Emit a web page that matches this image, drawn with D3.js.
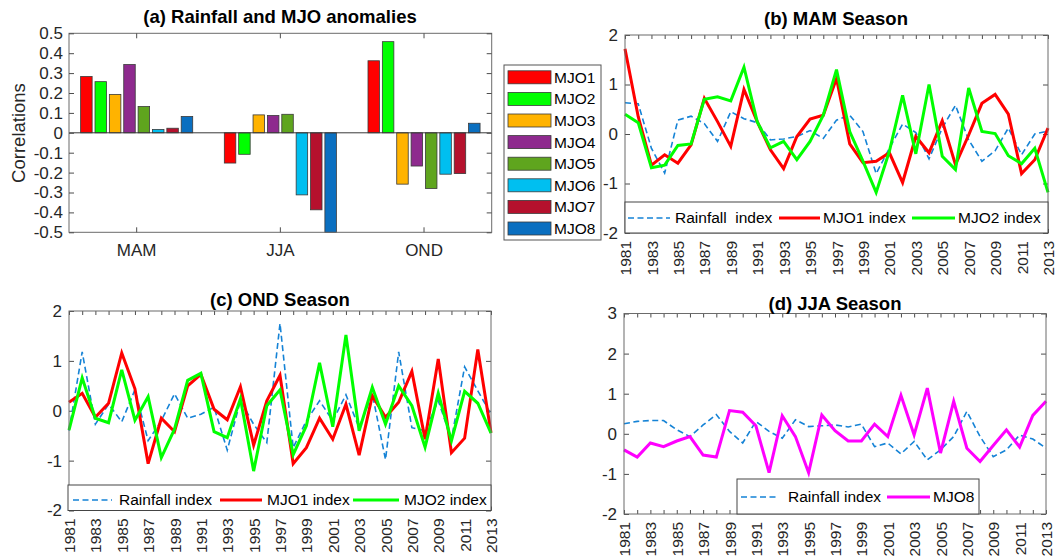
<!DOCTYPE html>
<html>
<head>
<meta charset="utf-8">
<script src="https://cdn.jsdelivr.net/npm/d3@7"></script>
<style>
  body { margin: 0; background: #fff; }
  svg { font-family: "Liberation Sans", Arial, Helvetica, sans-serif; }
  .axis path { display: none; }
  .axis line { stroke: #4d4d4d; }
  .axis text { fill: #262626; font-size: 17px; font-family: "Liberation Sans", Arial, sans-serif; }
  .title { font-weight: bold; font-size: 18.5px; fill: #000; text-anchor: middle; }
  .leg { font-size: 15.5px; fill: #000; white-space: pre; }
</style>
</head>
<body>
<svg id="chart" width="1055" height="558"></svg>
<script>
// ---- data ----
const seasons = ['MAM', 'JJA', 'OND'];
const phases = ['MJO1', 'MJO2', 'MJO3', 'MJO4', 'MJO5', 'MJO6', 'MJO7', 'MJO8'];
const corrMAM = [0.283, 0.257, 0.193, 0.343, 0.132, 0.017, 0.023, 0.082];
const corrJJA = [-0.152, -0.108, 0.09, 0.087, 0.093, -0.312, -0.387, -0.5];
const corrOND = [0.362, 0.458, -0.258, -0.167, -0.28, -0.208, -0.205, 0.048];
const corrTicks = [-0.5, -0.4, -0.3, -0.2, -0.1, 0, 0.1, 0.2, 0.3, 0.4, 0.5];

const years = [1981, 1982, 1983, 1984, 1985, 1986, 1987, 1988, 1989, 1990, 1991,
  1992, 1993, 1994, 1995, 1996, 1997, 1998, 1999, 2000, 2001, 2002,
  2003, 2004, 2005, 2006, 2007, 2008, 2009, 2010, 2011, 2012, 2013];

// (b) MAM
const mamRain = [0.63, 0.61, -0.29, -0.79, 0.28, 0.36, 0.21, -0.15, 0.45, 0.31, 0.23,
  -0.12, -0.1, -0.05, 0.07, -0.09, 0.28, 0.38, 0.05, -0.8, -0.29, 0.2,
  0.03, -0.5, 0.12, 0.58, -0.12, -0.55, -0.34, 0.12, -0.42, 0.0, 0.06];
const mamMJO1 = [1.72, 0.35, -0.63, -0.42, -0.59, -0.22, 0.72, 0.25, -0.25, 0.9, 0.25,
  -0.32, -0.7, -0.05, 0.3, 0.38, 1.12, -0.2, -0.58, -0.55, -0.38, -0.98,
  -0.05, -0.38, 0.27, -0.62, -0.02, 0.62, 0.8, 0.4, -0.8, -0.52, 0.12];
const mamMJO2 = [0.4, 0.23, -0.68, -0.63, -0.23, -0.2, 0.7, 0.75, 0.67, 1.35, 0.25,
  -0.28, -0.15, -0.52, -0.15, 0.38, 1.3, 0.05, -0.55, -1.18, -0.35, 0.78,
  -0.4, 1.0, -0.45, -0.72, 0.93, 0.05, 0.01, -0.44, -0.6, -0.29, -1.18];

// (c) OND
const ondRain = [-0.4, 1.18, -0.27, 0.13, -0.22, 0.42, -0.6, -0.2, 0.34, -0.15, -0.07,
  0.07, -0.79, 0.2, -0.27, -0.64, 1.75, -0.74, -0.2, 0.2, -0.2, 0.32,
  -0.34, 0.34, -0.98, 1.18, -0.34, -0.4, 0.2, -0.57, 0.88, 0.4, -0.07];
const ondMJO1 = [0.17, 0.35, -0.13, 0.15, 1.16, 0.44, -1.06, -0.15, -0.42, 0.5, 0.73,
  0.03, -0.18, 0.48, -0.69, 0.2, 0.71, -1.06, -0.74, -0.15, -0.57, 0.13,
  -0.89, 0.3, -0.13, 0.17, 0.79, -0.57, 1.04, -0.84, -0.55, 1.23, -0.44];
const ondMJO2 = [-0.39, 0.66, -0.15, -0.24, 0.82, -0.19, 0.28, -0.94, -0.37, 0.61, 0.75,
  -0.42, -0.54, 0.24, -1.21, 0.1, 0.42, -0.88, -0.3, 0.96, -0.32, 1.52,
  -0.4, 0.47, -0.27, 0.5, 0.1, -0.73, 0.35, -0.6, 0.39, 0.15, -0.45];

// (d) JJA
const jjaRain = [0.25, 0.31, 0.33, 0.33, 0.1, -0.07, 0.22, 0.48, 0.06, -0.23, 0.31,
  0.06, -0.11, 0.35, 0.18, 0.2, 0.22, 0.17, 0.24, -0.32, -0.23, -0.5,
  -0.19, -0.65, -0.4, -0.07, 0.56, -0.07, -0.57, -0.4, -0.03, -0.13, -0.36];
const jjaMJO8 = [-0.4, -0.58, -0.23, -0.32, -0.18, -0.07, -0.53, -0.58, 0.58, 0.54, 0.2,
  -0.97, 0.45, -0.07, -0.97, 0.47, 0.08, -0.18, -0.18, 0.24, -0.07, 0.96,
  -0.03, 1.14, -0.48, 0.81, -0.36, -0.69, -0.29, 0.1, -0.33, 0.46, 0.81];

const lineTicks = [-2, -1, 0, 1, 2];
const lineTicksD = [-2, -1, 0, 1, 2, 3];

// ---- styles ----
const phaseColors = ['#ff0000', '#00ff00', '#ffb300', '#8e2a8e', '#5fa51e', '#00bff0', '#b5112d', '#0a6fc0'];
const rainStyle = { color: '#1583d6', width: 1.6, dash: '6,3.5' };
const boxColor = '#6b6b6b';

const svg = d3.select('#chart');

// ================= (a) bar chart =================
(function () {
	const box = { left: 69, right: 491.7, top: 33.3, bottom: 232.3 };
	const corr = { MAM: corrMAM, JJA: corrJJA, OND: corrOND };

	const x0 = d3.scaleBand().domain(seasons).range([box.left, box.right])
		.paddingInner(0.2).paddingOuter(0.071);
	const x1 = d3.scaleBand().domain(phases).range([0, x0.bandwidth()])
		.paddingInner(0.2).paddingOuter(0.1);
	const y = d3.scaleLinear().domain([-0.5, 0.5]).range([box.bottom, box.top]);

	const g = svg.append('g');
	g.append('rect')
		.attr('x', box.left).attr('y', box.top)
		.attr('width', box.right - box.left).attr('height', box.bottom - box.top)
		.attr('fill', '#fff');

	seasons.forEach(function (s) {
		g.selectAll(null)
			.data(corr[s])
			.enter().append('rect')
			.attr('x', (d, i) => x0(s) + x1(phases[i]))
			.attr('width', x1.bandwidth())
			.attr('y', d => y(Math.max(0, d)))
			.attr('height', d => Math.abs(y(d) - y(0)))
			.attr('fill', (d, i) => phaseColors[i])
			.attr('stroke', '#3a3a3a')
			.attr('stroke-width', 0.8);
	});

	// baseline at zero
	g.append('line')
		.attr('x1', box.left).attr('x2', box.right)
		.attr('y1', y(0)).attr('y2', y(0))
		.attr('stroke', '#3a3a3a').attr('stroke-width', 1);

	g.append('rect')
		.attr('x', box.left).attr('y', box.top)
		.attr('width', box.right - box.left).attr('height', box.bottom - box.top)
		.attr('fill', 'none').attr('stroke', boxColor);

	g.append('g').attr('class', 'axis')
		.attr('transform', 'translate(' + box.left + ',0)')
		.call(d3.axisLeft(y).tickValues(corrTicks).tickSize(-5).tickPadding(6)
			.tickFormat(d => String(d)));
	g.append('g').attr('class', 'axis')
		.attr('transform', 'translate(' + box.right + ',0)')
		.call(d3.axisRight(y).tickValues(corrTicks).tickSize(-5).tickFormat(''));
	g.append('g').attr('class', 'axis')
		.attr('transform', 'translate(0,' + box.bottom + ')')
		.call(d3.axisBottom(x0).tickSize(-5).tickPadding(12));
	g.append('g').attr('class', 'axis')
		.attr('transform', 'translate(0,' + box.top + ')')
		.call(d3.axisTop(x0).tickSize(-5).tickFormat(''));

	svg.append('text').attr('class', 'title')
		.attr('x', 280).attr('y', 23)
		.text('(a) Rainfall and MJO anomalies');

	svg.append('text')
		.attr('transform', 'translate(25,133) rotate(-90)')
		.attr('text-anchor', 'middle')
		.style('font-size', '18.5px')
		.attr('fill', '#262626')
		.text('Correlations');

	// legend for bars
	const leg = svg.append('g');
	leg.append('rect')
		.attr('x', 504).attr('y', 65).attr('width', 97).attr('height', 175)
		.attr('fill', '#fff').attr('stroke', '#555').attr('stroke-width', 1);
	const row = d3.scaleLinear().domain([0, 7]).range([77.3, 228.5]);
	phases.forEach(function (p, i) {
		leg.append('rect')
			.attr('x', 508).attr('y', row(i) - 6.5)
			.attr('width', 43).attr('height', 13)
			.attr('fill', phaseColors[i]).attr('stroke', '#3a3a3a').attr('stroke-width', 0.8);
		leg.append('text').attr('class', 'leg')
			.attr('x', 554).attr('y', row(i)).attr('dy', '0.35em')
			.text(p);
	});
})();

// ================= line panels =================
function linePanel(cfg) {
	const box = cfg.box;
	const x = d3.scaleLinear().domain([years[0], years[years.length - 1]]).range([box.left, box.right]);
	const y = d3.scaleLinear().domain(d3.extent(cfg.ticks)).range([box.bottom, box.top]);
	const g = svg.append('g');

	g.append('rect')
		.attr('x', box.left).attr('y', box.top)
		.attr('width', box.right - box.left).attr('height', box.bottom - box.top)
		.attr('fill', '#fff');

	// ticks (inward, MATLAB style)
	g.append('g').attr('class', 'axis')
		.attr('transform', 'translate(' + box.left + ',0)')
		.call(d3.axisLeft(y).tickValues(cfg.ticks).tickSize(-5).tickPadding(7)
			.tickFormat(d => String(d)));
	g.append('g').attr('class', 'axis')
		.attr('transform', 'translate(' + box.right + ',0)')
		.call(d3.axisRight(y).tickValues(cfg.ticks).tickSize(-5).tickFormat(''));
	g.append('g').attr('class', 'axis')
		.attr('transform', 'translate(0,' + box.top + ')')
		.call(d3.axisTop(x).tickValues(years).tickSize(-4).tickFormat(''));
	const bottom = g.append('g').attr('class', 'axis')
		.attr('transform', 'translate(0,' + box.bottom + ')')
		.call(d3.axisBottom(x).tickValues(years).tickSize(-4)
			.tickFormat((d, i) => i % 2 === 0 ? String(d) : ''));
	bottom.selectAll('text')
		.attr('transform', 'rotate(-90)')
		.attr('x', -8).attr('y', 0).attr('dy', '0.36em')
		.style('text-anchor', 'end')
		.style('font-size', '15.5px');

	// series
	cfg.series.forEach(function (s) {
		const line = d3.line()
			.x((d, i) => x(years[i]))
			.y(d => y(d));
		g.append('path')
			.datum(s.values)
			.attr('d', line)
			.attr('fill', 'none')
			.attr('stroke', s.color)
			.attr('stroke-width', s.width)
			.attr('stroke-dasharray', s.dash || null)
			.attr('stroke-linejoin', 'miter');
	});

	g.append('rect')
		.attr('x', box.left).attr('y', box.top)
		.attr('width', box.right - box.left).attr('height', box.bottom - box.top)
		.attr('fill', 'none').attr('stroke', boxColor);

	// legend
	const L = cfg.legend;
	g.append('rect')
		.attr('x', L.x0).attr('y', L.y0)
		.attr('width', L.x1 - L.x0).attr('height', L.y1 - L.y0)
		.attr('fill', '#fff').attr('stroke', '#444').attr('stroke-width', 1);
	L.items.forEach(function (it, i) {
		const s = cfg.series[i];
		g.append('line')
			.attr('x1', it.lx0).attr('x2', it.lx1)
			.attr('y1', L.ty).attr('y2', L.ty)
			.attr('stroke', s.color).attr('stroke-width', s.width)
			.attr('stroke-dasharray', s.dash || null);
		g.append('text').attr('class', 'leg')
			.attr('x', it.tx).attr('y', L.ty).attr('dy', '0.35em')
			.text(it.label);
	});

	svg.append('text').attr('class', 'title')
		.attr('x', cfg.titleX).attr('y', cfg.titleY)
		.text(cfg.title);
}

linePanel({
	box: { left: 625, right: 1048, top: 35, bottom: 233 },
	ticks: lineTicks,
	title: '(b) MAM Season', titleX: 836, titleY: 25,
	series: [
		{ values: mamRain, color: rainStyle.color, width: rainStyle.width, dash: rainStyle.dash },
		{ values: mamMJO1, color: '#ff0000', width: 3 },
		{ values: mamMJO2, color: '#00ff00', width: 3 }
	],
	legend: {
		x0: 625, x1: 1048, y0: 202, y1: 233, ty: 218,
		items: [
			{ label: 'Rainfall  index', lx0: 628, lx1: 670, tx: 675 },
			{ label: 'MJO1 index', lx0: 779, lx1: 820, tx: 823 },
			{ label: 'MJO2 index', lx0: 912, lx1: 955, tx: 958 }
		]
	}
});

linePanel({
	box: { left: 69, right: 491, top: 311, bottom: 510.5 },
	ticks: lineTicks,
	title: '(c) OND Season', titleX: 280, titleY: 306,
	series: [
		{ values: ondRain, color: rainStyle.color, width: rainStyle.width, dash: rainStyle.dash },
		{ values: ondMJO1, color: '#ff0000', width: 3 },
		{ values: ondMJO2, color: '#00ff00', width: 3 }
	],
	legend: {
		x0: 68, x1: 491, y0: 485, y1: 510.5, ty: 500,
		items: [
			{ label: 'Rainfall index', lx0: 73, lx1: 112, tx: 119 },
			{ label: 'MJO1 index', lx0: 220, lx1: 262, tx: 267 },
			{ label: 'MJO2 index', lx0: 353, lx1: 399, tx: 404 }
		]
	}
});

linePanel({
	box: { left: 624, right: 1046, top: 313.5, bottom: 514 },
	ticks: lineTicksD,
	title: '(d) JJA Season', titleX: 835, titleY: 310,
	series: [
		{ values: jjaRain, color: rainStyle.color, width: rainStyle.width, dash: rainStyle.dash },
		{ values: jjaMJO8, color: '#ff00ff', width: 3 }
	],
	legend: {
		x0: 737, x1: 979, y0: 479, y1: 514, ty: 497,
		items: [
			{ label: 'Rainfall index', lx0: 741, lx1: 779, tx: 788 },
			{ label: 'MJO8', lx0: 887, lx1: 930, tx: 933 }
		]
	}
});
</script>
</body>
</html>
